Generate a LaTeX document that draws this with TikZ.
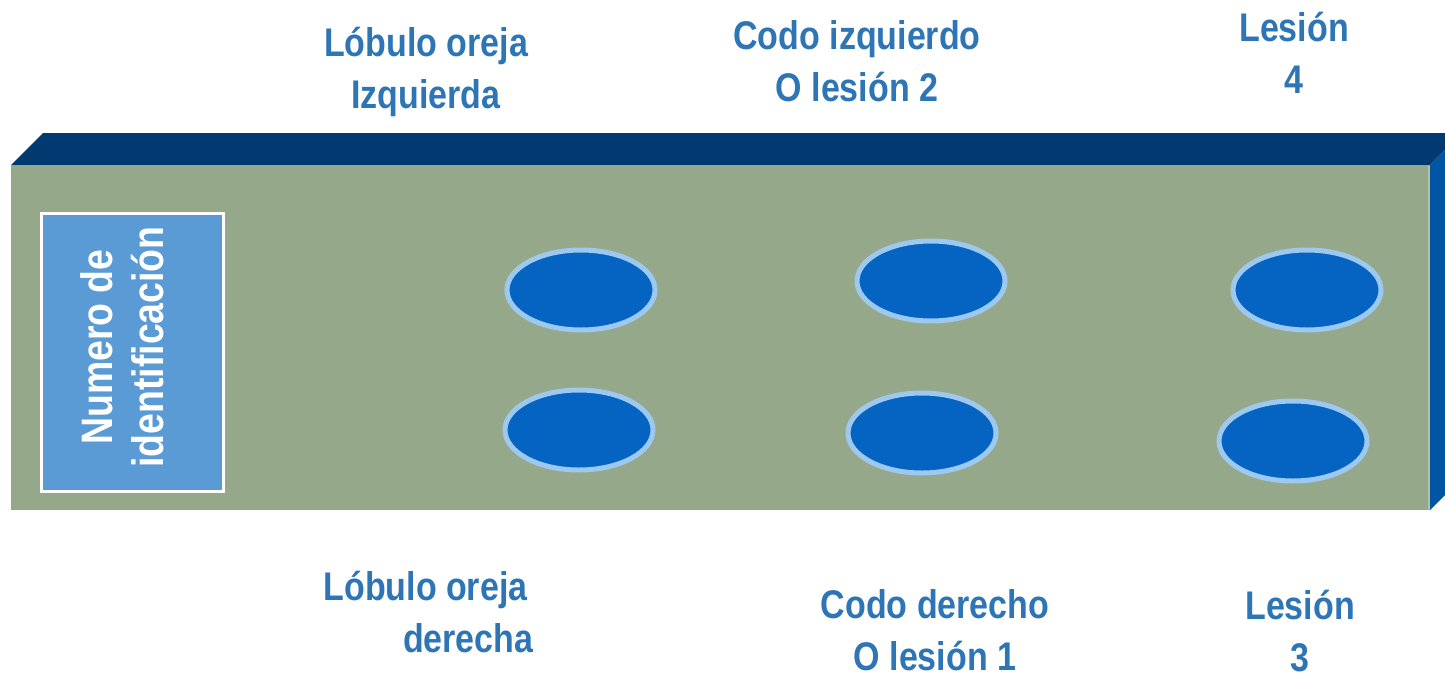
\documentclass[tikz,border=0pt]{standalone}
\usepackage{fontspec}
\setmainfont[FakeStretch=0.85]{Liberation Sans}
\usetikzlibrary{shapes.geometric,positioning}
\definecolor{labelblue}{HTML}{2E75B6}
\definecolor{facegreen}{HTML}{95A98A}
\definecolor{topnavy}{HTML}{003A70}
\definecolor{sideblue}{HTML}{0055A5}
\definecolor{spotfill}{HTML}{0563C1}
\definecolor{spotedge}{HTML}{9DC8F0}
\definecolor{idblue}{HTML}{5B9BD5}

\begin{document}
\begin{tikzpicture}[x=1pt,y=-1pt] % pixel units, y goes down
\tikzset{spot/.style={ellipse,draw=spotedge,line width=5pt,fill=spotfill,minimum width=148pt,minimum height=80pt,inner sep=0pt}} % the blue spots
\tikzset{lbl/.style={text=labelblue,font=\fontsize{40}{52}\selectfont\bfseries,align=center}} % labels round the tag
\useasboundingbox (0,0) rectangle (1445,672);
% the tag as a flat box
\fill[topnavy] (11,165) -- (43,133) -- (1445,133) -- (1445,150) -- (1430,165) -- cycle;
\fill[sideblue] (1430,165) -- (1445,150) -- (1445,495) -- (1430,510) -- cycle;
\fill[facegreen] (11,165) rectangle (1430,510);
\draw[color=facegreen!70!white,line width=1.5pt] (1429,166) -- (1429,509);
\node[draw=white,line width=3pt,fill=idblue,minimum width=182pt,minimum height=278pt,inner sep=0pt] (idbox) at (132.5,352.5) {};
\node[rotate=90,text=white,font=\fontsize{44}{51}\selectfont\bfseries,align=center] (idtext) at (122,347) {Numero de\\identificación};
% spots
\node[spot] (s1) at (581,290) {};
\node[spot] (s2) at (931,281) {};
\node[spot] (s3) at (1307,290) {};
\node[spot] (s4) at (579,430) {};
\node[spot] (s5) at (922,433) {};
\node[spot] (s6) at (1293,441) {};
% labels
\node[lbl] (earleft) at (426,72) {Lóbulo oreja\\Izquierda};
\node[lbl] (elbowleft) at (857,61) {Codo izquierdo\\O lesión 2};
\node[lbl] (lesion4) at (1294,53) {Lesión\\4};
\node[lbl,align=right,anchor=east] (earright) at (537,612) {Lóbulo oreja\hspace*{6pt}\\derecha};
\node[lbl] (elbowright) at (935,630) {Codo derecho\\O lesión 1};
\node[lbl] (lesion3) at (1300,631) {Lesión\\3};
\end{tikzpicture}
\end{document}
